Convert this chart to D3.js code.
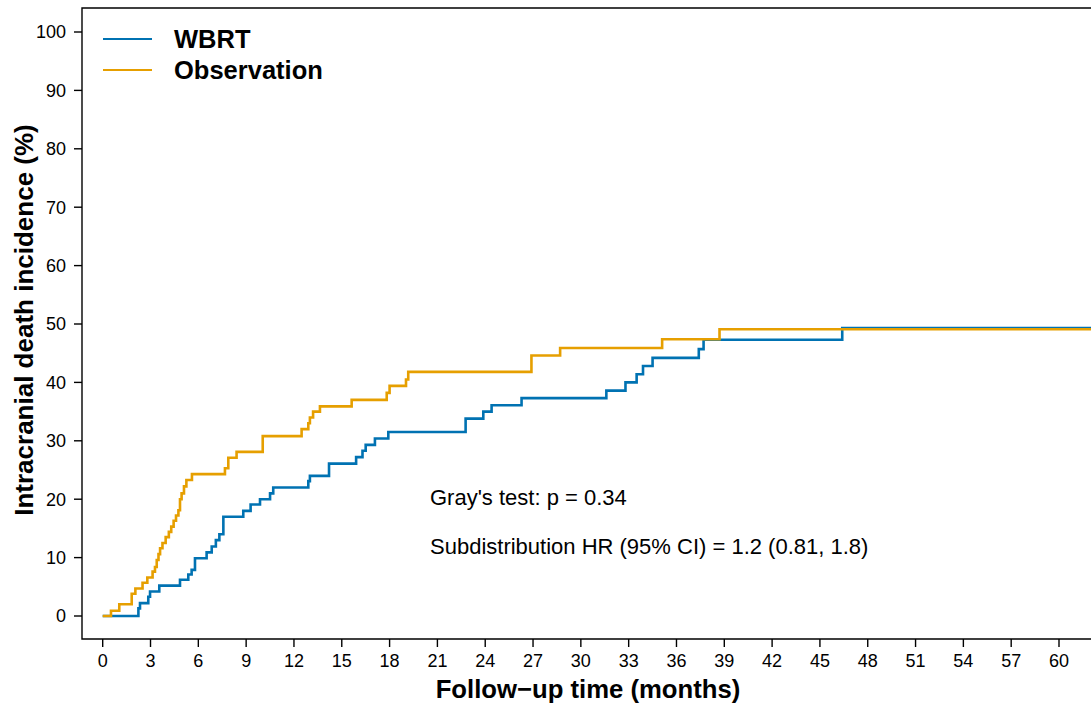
<!DOCTYPE html>
<html>
<head>
<meta charset="utf-8">
<script src="https://cdn.jsdelivr.net/npm/d3@7"></script>
<style>
  body { margin: 0; background: #fff; }
  text { font-family: "Liberation Sans", Arial, Helvetica, sans-serif; }
</style>
</head>
<body>
<div id="chart"></div>
<script>
// cumulative incidence steps (months, %)
var wbrtTime = [0, 2.24, 2.34, 2.86, 2.97, 3.55, 4.85, 5.37, 5.58, 5.79, 6.52, 6.84, 7.1, 7.32, 7.57,
  8.82, 9.28, 9.87, 10.5, 10.7, 12.9, 13.0, 14.2, 15.9, 16.3, 16.5, 17.08, 17.92, 22.77, 23.88,
  24.4, 26.28, 31.6, 32.8, 33.5, 33.9, 34.5, 37.4, 37.7, 46.4];
var wbrtInc = [0, 1.3, 2.2, 3.3, 4.2, 5.2, 6.2, 7.1, 7.9, 9.9, 10.9, 11.9, 13.0, 14.0, 17.0,
  18.0, 19.1, 20.0, 21.0, 22.0, 23.1, 24.0, 26.1, 27.2, 28.3, 29.3, 30.4, 31.5, 33.8, 35.0,
  36.1, 37.3, 38.6, 40.0, 41.4, 42.8, 44.2, 45.7, 47.3, 49.3];

var obsTime = [0, 0.52, 1.04, 1.82, 2.05, 2.5, 2.8, 3.13, 3.28, 3.39, 3.5, 3.6, 3.75, 3.95, 4.15,
  4.3, 4.45, 4.6, 4.75, 4.85, 4.95, 5.1, 5.25, 5.6, 7.67, 7.88, 8.4, 10.04, 12.48, 12.9, 13.0,
  13.2, 13.63, 15.62, 17.82, 18.0, 19.03, 19.17, 26.9, 28.7, 35.1, 38.7];
var obsInc = [0, 0.9, 2.0, 3.8, 4.7, 5.7, 6.6, 7.6, 8.4, 9.6, 10.6, 11.6, 12.5, 13.5, 14.4,
  15.3, 16.3, 17.2, 18.1, 20.0, 21.0, 22.2, 23.3, 24.3, 25.3, 27.1, 28.1, 30.8, 32.0, 33.0, 34.0,
  35.0, 35.9, 37.0, 38.2, 39.4, 40.5, 41.8, 44.6, 45.9, 47.4, 49.1];

var xTicks = d3.range(0, 61, 3);
var yTicks = d3.range(0, 101, 10);
var groupNames = ["WBRT", "Observation"];
var groupColors = ["#0072B2", "#E69F00"];

var width = 1091, height = 707;
var box = { left: 82, top: 8, right: 1094, bottom: 639 };

var svg = d3.select("#chart")
  .append("svg")
  .attr("width", width)
  .attr("height", height);

var x = d3.scaleLinear().domain([0, 60]).range([102.7, 1059]);
var y = d3.scaleLinear().domain([0, 100]).range([616, 32]);

svg.append("clipPath").attr("id", "panel")
  .append("rect")
  .attr("x", box.left).attr("y", box.top)
  .attr("width", box.right - box.left).attr("height", box.bottom - box.top);

// build step data, carry last value out past the right edge
function steps(times, vals) {
  var pts = times.map(function(t, i) { return [t, vals[i]]; });
  pts.push([63, vals[vals.length - 1]]);
  return pts;
}

var line = d3.line()
  .x(function(d) { return x(d[0]); })
  .y(function(d) { return y(d[1]); })
  .curve(d3.curveStepAfter);

var curves = svg.append("g").attr("clip-path", "url(#panel)");
curves.append("path")
  .datum(steps(wbrtTime, wbrtInc))
  .attr("d", line)
  .attr("fill", "none")
  .attr("stroke", groupColors[0])
  .attr("stroke-width", 2.6);
curves.append("path")
  .datum(steps(obsTime, obsInc))
  .attr("d", line)
  .attr("fill", "none")
  .attr("stroke", groupColors[1])
  .attr("stroke-width", 2.6);

// panel border: left, top, bottom
svg.append("path")
  .attr("d", "M" + box.right + "," + box.top + "H" + box.left + "V" + box.bottom + "H" + box.right)
  .attr("fill", "none")
  .attr("stroke", "black")
  .attr("stroke-width", 1.4);

// x axis ticks
var xAxis = svg.append("g").attr("class", "x-axis");
xAxis.selectAll("line")
  .data(xTicks)
  .enter().append("line")
  .attr("x1", function(d) { return x(d); })
  .attr("x2", function(d) { return x(d); })
  .attr("y1", box.bottom)
  .attr("y2", box.bottom + 8)
  .attr("stroke", "black")
  .attr("stroke-width", 1.4);
xAxis.selectAll("text")
  .data(xTicks)
  .enter().append("text")
  .attr("x", function(d) { return x(d); })
  .attr("y", 667)
  .attr("text-anchor", "middle")
  .attr("font-size", 18)
  .text(function(d) { return d; });

// y axis ticks
var yAxis = svg.append("g").attr("class", "y-axis");
yAxis.selectAll("line")
  .data(yTicks)
  .enter().append("line")
  .attr("x1", box.left - 8)
  .attr("x2", box.left)
  .attr("y1", function(d) { return y(d); })
  .attr("y2", function(d) { return y(d); })
  .attr("stroke", "black")
  .attr("stroke-width", 1.4);
yAxis.selectAll("text")
  .data(yTicks)
  .enter().append("text")
  .attr("x", 66)
  .attr("y", function(d) { return y(d); })
  .attr("dy", "0.35em")
  .attr("text-anchor", "end")
  .attr("font-size", 18)
  .text(function(d) { return d; });

// axis titles
svg.append("text")
  .attr("x", 588)
  .attr("y", 698)
  .attr("text-anchor", "middle")
  .attr("font-size", 25.7)
  .attr("font-weight", "bold")
  .text("Follow\u2212up time (months)");

svg.append("text")
  .attr("transform", "translate(33,320) rotate(-90)")
  .attr("text-anchor", "middle")
  .attr("font-size", 26)
  .attr("font-weight", "bold")
  .text("Intracranial death incidence (%)");

// legend
var legend = svg.selectAll(".legend")
  .data(groupNames)
  .enter().append("g")
  .attr("class", "legend")
  .attr("transform", function(d, i) { return "translate(0," + (39 + i * 31) + ")"; });
legend.append("line")
  .attr("x1", 103).attr("x2", 152)
  .attr("stroke", function(d, i) { return groupColors[i]; })
  .attr("stroke-width", 2.2);
legend.append("text")
  .attr("x", 174)
  .attr("dy", "0.36em")
  .attr("font-size", 25.5)
  .attr("font-weight", "bold")
  .text(function(d) { return d; });

// test annotations
svg.append("text")
  .attr("x", 430).attr("y", 505)
  .attr("font-size", 22)
  .text("Gray's test: p = 0.34");
svg.append("text")
  .attr("x", 430).attr("y", 554)
  .attr("font-size", 22)
  .text("Subdistribution HR (95% CI) = 1.2 (0.81, 1.8)");
</script>
</body>
</html>
